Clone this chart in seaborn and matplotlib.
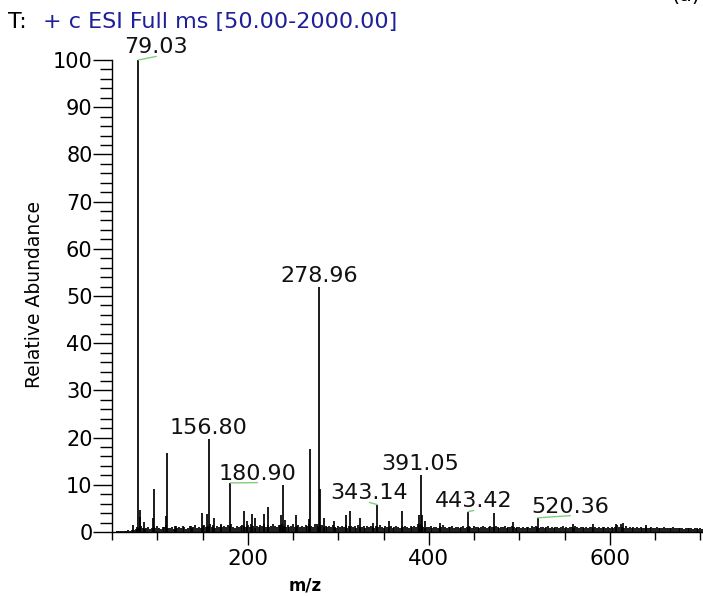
import numpy as np
import pandas as pd
import matplotlib
matplotlib.use("Agg")
import matplotlib.pyplot as plt
import seaborn as sns
from matplotlib.ticker import MultipleLocator

# --- data ---
# main sticks (m/z, relative abundance)
peak_mz = [73.6, 79.03, 80.4, 81.2, 85.7, 95.0, 96.8, 109.6, 110.6, 120.7, 137.2,
           149.0, 154.8, 156.80, 162.9, 170.2, 180.90, 196.0, 199.7, 204.4, 207.7,
           218.0, 222.4, 236.4, 239.3, 241.5, 253.6, 267.6, 268.6, 278.96, 280.2,
           284.0, 295.0, 308.7, 312.7, 323.7, 338.5, 343.14, 356.0, 370.4, 388.8,
           391.05, 392.5, 396.0, 412.7, 443.42, 472.0, 493.5, 520.36, 559.0, 581.3,
           607.0, 614.7, 640.0]
peak_int = [1.5, 100.0, 4.7, 3.2, 2.1, 2.9, 9.1, 3.3, 16.8, 1.3, 1.3,
            4.0, 3.8, 19.6, 2.9, 1.8, 10.4, 4.4, 2.4, 3.8, 2.9,
            3.8, 5.2, 3.6, 9.9, 2.5, 3.6, 2.8, 17.6, 51.9, 9.2,
            2.9, 2.4, 3.6, 4.4, 2.9, 2.0, 5.8, 2.3, 4.4, 3.6,
            12.1, 3.6, 2.4, 1.9, 4.3, 4.0, 2.1, 3.0, 1.8, 1.7,
            1.7, 1.9, 1.5]

# baseline noise, one value per even m/z from 56 to 702
noise_start, noise_step = 56, 2
noise_int = [
    0.2, 0.2, 0.3, 0.2, 0.3, 0.3, 0.4, 0.3, 0.5, 0.4,
    0.7, 1.0, 0.8, 1.2, 0.9, 0.6, 0.8, 1.1, 0.7, 0.9,
    1.0, 0.8, 1.3, 0.9, 0.7, 1.0, 1.1, 1.4, 0.9, 0.8,
    1.0, 0.7, 1.2, 0.9, 1.1, 0.8, 1.3, 1.0, 0.7, 0.9,
    1.2, 0.8, 1.0, 1.4, 0.9, 1.1, 0.8, 1.2, 1.5, 1.0,
    1.3, 1.6, 1.1, 1.4, 0.9, 1.2, 1.0, 1.5, 1.1, 1.3,
    1.0, 1.4, 1.2, 1.6, 1.1, 0.9, 1.3, 1.0, 1.2, 1.5,
    1.3, 1.1, 1.4, 1.0, 1.6, 1.2, 0.9, 1.3, 1.1, 1.5,
    1.2, 1.7, 1.0, 1.4, 1.1, 1.3, 1.6, 1.2, 1.0, 1.4,
    1.5, 1.8, 1.2, 1.0, 1.4, 1.1, 1.3, 1.6, 1.0, 1.2,
    1.4, 1.1, 1.3, 1.0, 1.5, 1.2, 1.7, 1.3, 1.1, 1.6,
    1.8, 1.2, 1.5, 1.4, 1.0, 1.3, 1.1, 1.2, 1.0, 1.4,
    1.1, 0.9, 1.3, 1.0, 1.2, 1.1, 1.5, 0.9, 1.2, 1.3,
    1.0, 1.2, 0.9, 1.4, 1.1, 1.0, 1.3, 0.9, 1.2, 1.0,
    1.3, 1.1, 0.9, 1.2, 1.0, 1.4, 1.1, 0.9, 1.2, 1.0,
    1.1, 1.3, 0.9, 1.0, 1.2, 1.1, 0.9, 1.3, 1.0, 1.2,
    1.1, 0.9, 1.2, 1.0, 1.3, 1.1, 1.6, 1.8, 1.2, 1.0,
    0.9, 1.1, 1.0, 1.2, 0.9, 1.1, 1.0, 0.8, 1.2, 1.0,
    1.4, 1.0, 0.9, 1.1, 1.0, 1.2, 0.9, 1.0, 1.1, 0.9,
    1.0, 1.2, 0.9, 1.1, 1.3, 1.0, 0.9, 1.2, 1.0, 1.1,
    0.9, 1.0, 1.2, 1.1, 0.9, 1.0, 1.3, 1.1, 1.0, 1.2,
    1.0, 0.9, 1.1, 1.0, 1.2, 0.9, 1.0, 1.1, 1.3, 1.0,
    0.9, 1.1, 1.0, 0.8, 1.0, 0.9, 1.1, 1.0, 0.9, 1.2,
    1.0, 1.3, 1.1, 0.9, 1.0, 1.1, 0.9, 1.0, 1.2, 0.9,
    1.0, 0.9, 1.1, 1.0, 0.8, 1.0, 1.2, 0.9, 1.0, 0.9,
    1.1, 1.0, 0.9, 1.3, 1.0, 0.9, 1.1, 1.0, 0.8, 1.0,
    0.9, 1.0, 1.1, 0.9, 1.0, 0.8, 1.0, 0.9, 1.1, 1.0,
    0.9, 1.0, 0.8, 1.1, 0.9, 1.0, 1.4, 1.1, 1.6, 1.0,
    0.9, 1.2, 0.8, 1.0, 0.9, 1.1, 0.8, 1.0, 0.9, 1.0,
    0.8, 0.9, 1.0, 0.8, 0.9, 1.1, 0.8, 0.9, 1.0, 0.8,
    0.9, 0.8, 1.0, 0.9, 0.8, 0.9, 0.8, 1.0, 0.8, 0.9,
    0.8, 0.9, 0.8, 0.7, 0.9, 0.8, 0.8, 0.9, 0.7, 0.8,
    0.8, 0.7, 0.8, 0.7,
]
noise_mz = [noise_start + noise_step * i for i in range(len(noise_int))]

# labelled peaks and where their labels sit (m/z, y of text baseline)
label_mz = [79.03, 278.96, 156.80, 180.90, 343.14, 391.05, 443.42, 520.36]
label_int = [100.0, 51.9, 19.6, 10.4, 5.8, 12.1, 4.3, 3.0]
label_text_x = [98.9, 278.96, 156.80, 210.6, 334.3, 391.05, 449.8, 556.4]
label_text_y = [101.4, 53.0, 20.8, 11.1, 6.9, 13.2, 5.2, 4.1]
label_leader = [True, False, False, True, True, False, True, True]

spec = pd.DataFrame({"mz": noise_mz + peak_mz, "abund": noise_int + peak_int})

sns.set_theme(style="ticks")
plt.rcParams["font.family"] = ["DejaVu Sans"]

fig = plt.figure(figsize=(7.03, 5.96), dpi=100)
ax = fig.add_axes([112 / 703, 64 / 596, 591 / 703, 472 / 596])

ax.vlines(spec["mz"], 0, spec["abund"], color="black", linewidth=1.25)

ax.set_xlim(50, 703)
ax.set_ylim(0, 100)

ax.xaxis.set_major_locator(MultipleLocator(200))
ax.xaxis.set_minor_locator(MultipleLocator(50))
ax.yaxis.set_major_locator(MultipleLocator(10))
ax.yaxis.set_minor_locator(MultipleLocator(2))

ax.tick_params(axis="y", which="major", length=13.5, width=1.0, pad=0.5,
               labelsize=15, color="black", labelcolor="black", direction="out")
ax.tick_params(axis="y", which="minor", length=8.5, width=1.0, color="black", direction="out")
ax.tick_params(axis="x", which="major", length=9.5, width=1.0, pad=2.5,
               labelsize=15.5, color="black", labelcolor="black", direction="out")
ax.tick_params(axis="x", which="minor", length=6, width=1.0, color="black", direction="out")

sns.despine(ax=ax)
for side in ["left", "bottom"]:
    ax.spines[side].set_color("black")
    ax.spines[side].set_linewidth(1.0)
ax.grid(False)
ax.set_facecolor("white")

# peak labels
for mz, h, tx, ty, lead, in zip(label_mz, label_int, label_text_x, label_text_y, label_leader):
    txt = f"{mz:.2f}"
    if lead:
        ax.annotate(txt, xy=(mz, h), xytext=(tx, ty), ha="center", va="baseline",
                    fontsize=16, color="#111111", annotation_clip=False,
                    arrowprops=dict(arrowstyle="-", color="#7fcf7f", lw=1.0,
                                    shrinkA=0, shrinkB=0, relpos=(0.5, 0.05)))
    else:
        ax.text(tx, ty, txt, ha="center", va="baseline", fontsize=16, color="#111111")

# header texts
fig.text(8 / 703, 1 - 28 / 596, "T:", fontsize=16, color="black", va="baseline")
fig.text(43 / 703, 1 - 28 / 596, "+ c ESI Full ms [50.00-2000.00]", fontsize=16,
         color="#1f1f9a", va="baseline")
# panel tag, mostly cropped away at the top edge as in the source figure
fig.text(686 / 703, 1 - 1 / 596, "(a)", fontsize=15, color="black", ha="center", va="baseline")

fig.text(35 / 703, 1 - 295 / 596, "Relative Abundance", fontsize=13.5, rotation=90,
         ha="center", va="center", color="black")
fig.text(305 / 703, 1 - 586 / 596, "m/z", fontsize=12, fontweight="bold",
         ha="center", va="center", color="black")

fig.savefig("out.png", dpi=100, facecolor="white")
